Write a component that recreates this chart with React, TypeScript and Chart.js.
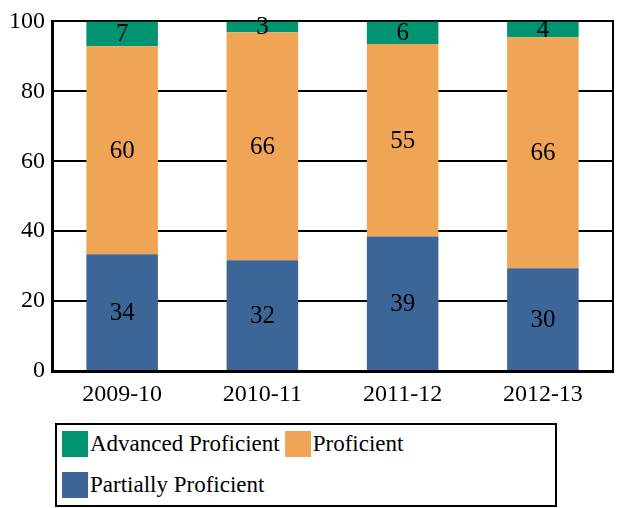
import React, { useEffect, useRef } from "react";
import { Chart, registerables } from "chart.js";

Chart.register(...registerables);

const categories = ["2009-10", "2010-11", "2011-12", "2012-13"];
const partiallyValues = [33.4, 31.7, 38.5, 29.4];
const proficientValues = [59.5, 65.2, 55.0, 66.1];
const advancedValues = [7.1, 3.1, 6.5, 4.5];
const partiallyLabels = ["34", "32", "39", "30"];
const proficientLabels = ["60", "66", "55", "66"];
const advancedLabels = ["7", "3", "6", "4"];
const seriesNames = ["Partially Proficient", "Proficient", "Advanced Proficient"];
const yMin = 0;
const yMax = 100;
const yStep = 20;

const FONT = '"Liberation Serif", "Times New Roman", serif';
const GREEN = "#009472";
const ORANGE = "#F0A455";
const BLUE = "#3C6698";

const segmentLabels = [partiallyLabels, proficientLabels, advancedLabels];

const labelPlugin = {
  id: "segLabels",
  afterDatasetsDraw(chart: any) {
    const ctx = chart.ctx;
    ctx.save();
    ctx.font = `25px ${FONT}`;
    ctx.fillStyle = "#000";
    ctx.textAlign = "center";
    ctx.textBaseline = "middle";
    chart.data.datasets.forEach((ds: any, di: number) => {
      const meta = chart.getDatasetMeta(di);
      meta.data.forEach((el: any, i: number) => {
        const p = el.getProps(["x", "y", "base"], true);
        const cy = (p.y + p.base) / 2;
        ctx.fillText(segmentLabels[di][i], p.x, cy + 1);
      });
    });
    ctx.restore();
  },
};

export default function App() {
  const ref = useRef<HTMLCanvasElement>(null);
  useEffect(() => {
    if (!ref.current) return;
    const chart = new Chart(ref.current, {
      type: "bar",
      data: {
        labels: categories,
        datasets: [
          { label: seriesNames[0], data: partiallyValues, backgroundColor: BLUE },
          { label: seriesNames[1], data: proficientValues, backgroundColor: ORANGE },
          { label: seriesNames[2], data: advancedValues, backgroundColor: GREEN },
        ],
      },
      options: {
        responsive: false,
        animation: false,
        devicePixelRatio: 1,
        layout: { padding: { top: 18, right: 8, bottom: 97, left: 0 } },
        plugins: { legend: { display: false }, tooltip: { enabled: false } },
        datasets: { bar: { categoryPercentage: 1, barPercentage: 0.51 } },
        scales: {
          x: {
            stacked: true,
            grid: { display: false },
            border: { display: true, color: "#000", width: 3 },
            ticks: { color: "#000", font: { family: FONT, size: 24 }, padding: 1, maxRotation: 0 },
            afterFit: (s: any) => { s.height = 40; },
          },
          y: {
            stacked: true,
            min: yMin,
            max: yMax,
            ticks: { stepSize: yStep, color: "#000", font: { family: FONT, size: 24 }, padding: 7 },
            grid: { color: "#000", lineWidth: 2, drawTicks: false },
            border: { display: true, color: "#000", width: 3 },
            afterFit: (s: any) => { s.width = 52; },
          },
          y2: {
            position: "right",
            min: yMin,
            max: yMax,
            grid: { display: false, drawTicks: false },
            ticks: { display: false },
            border: { display: true, color: "#000", width: 2 },
            afterFit: (s: any) => { s.width = 0; },
          },
        },
      },
      plugins: [labelPlugin],
    } as any);
    return () => chart.destroy();
  }, []);

  const item = (color: string, text: string) => (
    <div style={{ display: "flex", alignItems: "center", marginRight: 5, height: 26 }}>
      <div style={{ width: 26, height: 26, background: color, marginRight: 2 }} />
      <span style={{ fontFamily: FONT, fontSize: 23, lineHeight: "26px", color: "#000", whiteSpace: "nowrap" }}>{text}</span>
    </div>
  );

  return (
    <div style={{ position: "absolute", left: 0, top: 0, width: 621, height: 508, background: "#fff" }}>
      <canvas ref={ref} width={621} height={508} style={{ display: "block", width: 621, height: 508 }} />
      <div
        style={{
          position: "absolute",
          left: 55,
          top: 423,
          width: 502,
          height: 84,
          border: "2px solid #000",
          boxSizing: "border-box",
          display: "flex",
          flexWrap: "wrap",
          alignContent: "flex-start",
          paddingLeft: 5,
          paddingTop: 6,
          rowGap: 15,
          background: "#fff",
        }}
      >
        {item(GREEN, seriesNames[2])}
        {item(ORANGE, seriesNames[1])}
        {item(BLUE, seriesNames[0])}
      </div>
    </div>
  );
}
